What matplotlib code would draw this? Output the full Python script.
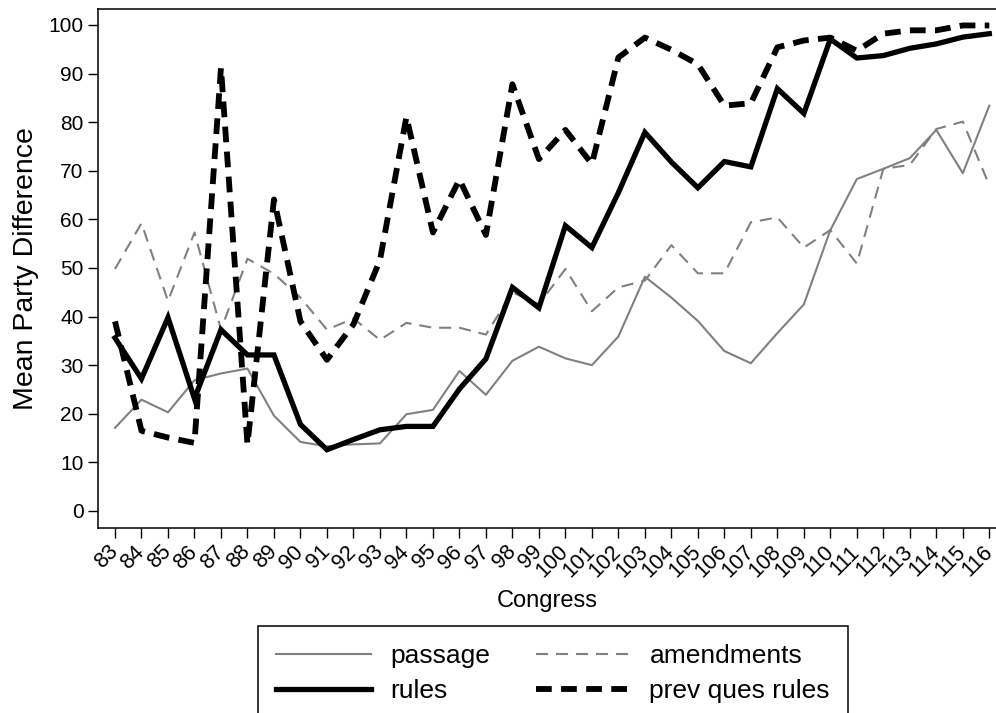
import numpy as np
import matplotlib.pyplot as plt

plt.rcParams['font.family'] = ['Liberation Sans', 'DejaVu Sans']

congress = list(range(83, 117))
passage = [17.1, 22.9, 20.3, 26.9, 28.3, 29.3, 19.6, 14.2, 13.3, 13.7, 13.9,
           19.9, 20.8, 28.8, 23.9, 30.9, 33.8, 31.4, 30.0, 35.9, 48.2, 43.9,
           39.1, 32.9, 30.4, 36.6, 42.5, 57.8, 68.3, 70.4, 72.6, 78.4, 69.5, 83.4]
amendments = [49.8, 59.2, 43.2, 57.3, 37.3, 51.9, 48.8, 43.9, 37.3, 39.6, 35.2,
              38.7, 37.7, 37.7, 36.3, 45.0, 42.5, 49.8, 41.1, 46.0, 47.4, 54.7,
              48.9, 48.9, 59.4, 60.4, 54.2, 57.8, 50.9, 70.4, 71.2, 78.6, 80.1, 67.0]
rules = [35.6, 27.2, 39.8, 23.1, 37.3, 32.1, 32.1, 17.8, 12.6, 14.7, 16.7,
         17.4, 17.4, 25.1, 31.3, 46.0, 41.8, 58.7, 54.2, 65.5, 77.9, 71.8,
         66.5, 71.9, 70.8, 86.9, 81.8, 97.1, 93.2, 93.7, 95.2, 96.1, 97.5, 98.2]
prev_ques = [39.0, 16.5, 15.1, 14.0, 91.2, 13.7, 64.1, 39.0, 31.1, 38.4, 51.6,
             81.1, 57.3, 68.2, 56.8, 87.8, 72.4, 78.4, 71.4, 93.3, 97.4, 94.9,
             91.9, 83.4, 83.9, 95.4, 96.8, 97.4, 94.7, 98.2, 98.9, 98.9, 99.9, 99.9]

gray = '#808080'

fig = plt.figure(figsize=(9.96, 7.13), dpi=100)
ax = fig.add_axes([0.0987, 0.2595, 0.9023, 0.7275])

l1, = ax.plot(congress, passage, color=gray, lw=1.5, label='passage')
l3, = ax.plot(congress, amendments, color=gray, lw=1.5, ls=(0, (5.8, 3.8)),
              label='amendments')
l2, = ax.plot(congress, rules, color='black', lw=3.8, label='rules',
              solid_joinstyle='miter')
l4, = ax.plot(congress, prev_ques, color='black', lw=4.2, ls=(0, (2.7, 1.6)),
              label='prev ques rules')

ax.set_xlim(82.37, 116.29)
ax.set_ylim(-3.5, 103.23)
ax.set_yticks(np.arange(0, 101, 10))
ax.set_xticks(congress)
ax.set_xticklabels([str(c) for c in congress], rotation=45, ha='right', va='center',
                   rotation_mode='anchor', fontsize=15.5)
ax.set_yticklabels([str(v) for v in range(0, 101, 10)], fontsize=15)
ax.tick_params(axis='both', direction='out', length=7, width=1)
ax.tick_params(axis='y', pad=3.5)
ax.tick_params(axis='x', pad=8)
for s in ax.spines.values():
    s.set_linewidth(1.1)

ax.set_ylabel('Mean Party Difference', fontsize=20.5, labelpad=7)
ax.set_xlabel('Congress', fontsize=17, labelpad=6)

leg = fig.legend([l1, l2, l3, l4],
                 ['passage', 'rules', 'amendments', 'prev ques rules'],
                 ncol=2, loc='upper left', bbox_to_anchor=(258 / 996, 1 - 626 / 713),
                 borderaxespad=0, fontsize=19,
                 handlelength=3.6, handletextpad=0.7,
                 columnspacing=1.75, labelspacing=0.41, borderpad=0.7,
                 fancybox=False, edgecolor='black', framealpha=1)
leg.get_frame().set_linewidth(1.1)

fig.savefig('out.png', dpi=100)
